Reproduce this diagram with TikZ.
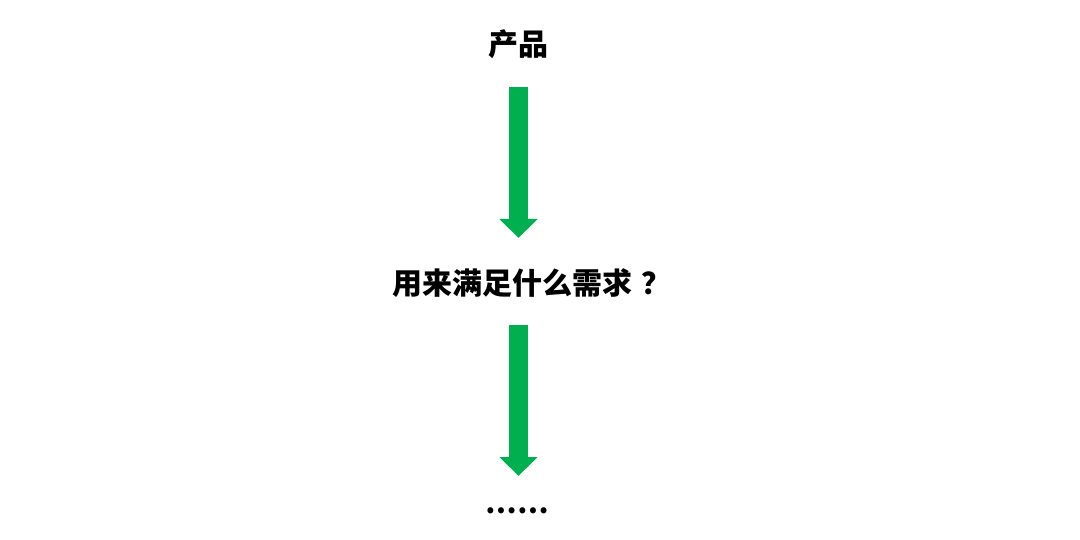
\documentclass[tikz,border=0pt]{standalone}
\usepackage{fontspec}
\newfontfamily\cjk{Noto Sans CJK SC}
\usetikzlibrary{arrows.meta}
\definecolor{arrgreen}{HTML}{00B050}
\begin{document}
\begin{tikzpicture}[x=1pt,y=-1pt,
  lbl/.style={inner sep=0pt,font=\cjk\bfseries\fontsize{30}{36}\selectfont,text=black},
  bigarrow/.style={draw=arrgreen,line width=19pt,-{Triangle[width=37pt,length=19pt]},arrgreen}]
\useasboundingbox[fill=white] (0,0) rectangle (1080,540);
\node[lbl] (p) at (518.5,44) {产品};
\node[lbl] (q) at (532,283) {用来满足什么需求\hspace{10pt}？};
\node[lbl,font=\cjk\bfseries\fontsize{28}{34}\selectfont] (r) at (517,511) {……};
\draw[bigarrow,shorten <=42.7pt,shorten >=45pt] (p.center) -- (p.center |- q.center);
\draw[bigarrow,shorten <=42pt,shorten >=35pt] (p.center |- q.center) -- (p.center |- r.center);
\end{tikzpicture}
\end{document}
